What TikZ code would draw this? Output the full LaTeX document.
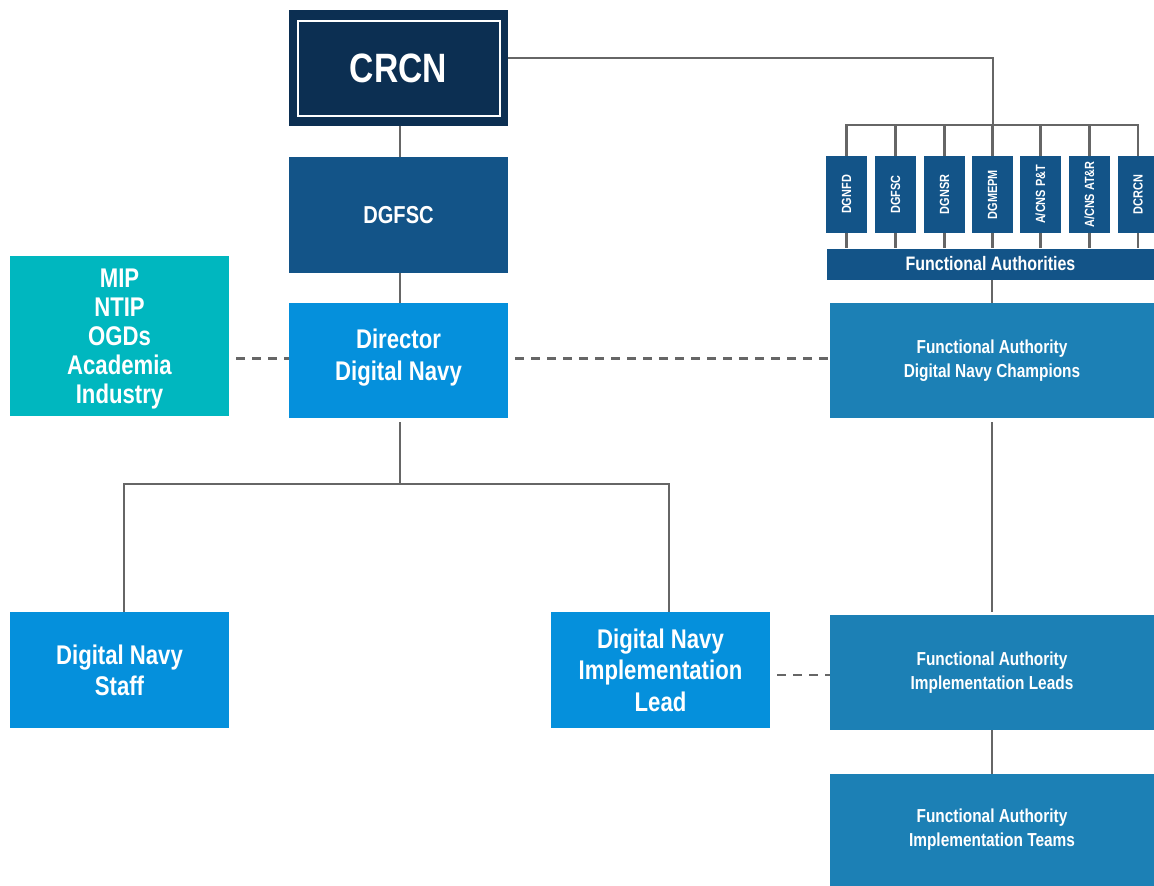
\documentclass[tikz,border=0pt]{standalone}
\usepackage{fontspec}
\setmainfont{Liberation Sans}[FakeStretch=0.82]
\definecolor{navy}{HTML}{0C2F52}
\definecolor{midblue}{HTML}{135488}
\definecolor{brightblue}{HTML}{0590DC}
\definecolor{teal}{HTML}{00B7BF}
\definecolor{fablue}{HTML}{1C80B5}
\definecolor{linegray}{HTML}{666666}
\newcommand{\fsz}[2]{\fontsize{#1}{#2}\selectfont}
\begin{document}
\begin{tikzpicture}[x=1pt,y=-1pt,
  box/.style={draw=none, inner sep=0pt, text=white, align=center, font=\bfseries},
  label/.style={inner sep=0pt, text=white, align=center},
  bigbox/.style={box, minimum width=219pt, minimum height=116pt},
  fabox/.style={box, fill=fablue, minimum width=324pt, minimum height=115pt, font=\bfseries\fsz{18.8}{24}},
  smallbox/.style={box, fill=midblue, minimum width=41pt, minimum height=77pt},
  smalltext/.style={text=white, font=\bfseries\fsz{13.3}{16}, rotate=90, inner sep=0pt},
  conn/.style={draw=linegray, line width=2.5pt},
  dashconn/.style={draw=linegray, line width=2.5pt, dash pattern=on 9pt off 7pt}]
\useasboundingbox (0,0) rectangle (1154,886);

% left column
\node[bigbox, fill=navy, font=\bfseries\fsz{41}{46}] (crcn) at (398.5,68) {CRCN};
\draw[white, line width=2.2pt] ([xshift=9pt,yshift=-11pt]crcn.north west) rectangle ([xshift=-8pt,yshift=10pt]crcn.south east);
\node[bigbox, fill=midblue, font=\bfseries\fsz{24.5}{28}] (dgfsc) at (398.5,215) {DGFSC};
\node[box, fill=teal, minimum width=219pt, minimum height=160pt] (mip) at (119.5,336) {};
\node[label, font=\bfseries\fsz{27}{29}] (miptext) at ([yshift=-3pt]mip.center) {MIP\\NTIP\\OGDs\\Academia\\Industry};
\node[bigbox, fill=brightblue, minimum height=115pt] (dir) at (398.5,360.5) {};
\node[label, font=\bfseries\fsz{27}{32}] (dirtext) at ([yshift=3pt]dir.center) {Director\\Digital Navy};
\node[bigbox, fill=brightblue, font=\bfseries\fsz{27}{31}] (staff) at (119.5,670) {Digital Navy\\Staff};
\node[bigbox, fill=brightblue, font=\bfseries\fsz{27}{31.5}] (impl) at (660.5,670) {Digital Navy\\Implementation\\Lead};

% right column
\node[smallbox] (b1) at (846.5,194.5) {};
\node[smallbox] (b2) at (895.5,194.5) {};
\node[smallbox] (b3) at (944.5,194.5) {};
\node[smallbox] (b4) at (992.5,194.5) {};
\node[smallbox] (b5) at (1040.5,194.5) {};
\node[smallbox] (b6) at (1089.5,194.5) {};
\node[smallbox] (b7) at (1138,194.5) {};
\node[smalltext] at (b1) {DGNFD};
\node[smalltext] at (b2) {DGFSC};
\node[smalltext] at (b3) {DGNSR};
\node[smalltext] at (b4) {DGMEPM};
\node[smalltext] at (b5) {A/CNS P\&T};
\node[smalltext] at (b6) {A/CNS AT\&R};
\node[smalltext] at (b7) {DCRCN};
\node[box, fill=midblue, minimum width=327pt, minimum height=31pt, font=\bfseries\fsz{19.5}{22}] (fa) at (990.5,264) {Functional Authorities};
\node[fabox] (fac) at (992,360.5) {Functional Authority\\Digital Navy Champions};
\node[fabox] (fil) at (992,672.5) {Functional Authority\\Implementation Leads};
\node[fabox, minimum height=112pt] (fit) at (992,830) {Functional Authority\\Implementation Teams};

% connectors
\coordinate (bus) at (993,125);
\coordinate (split) at (400,484);
\draw[conn] ([yshift=10pt]crcn.east) -| (bus);
\draw[conn] (b1.north) |- (bus) -| (b7.north);
\foreach \i in {2,...,6} {\draw[conn] (b\i.north) -- (b\i.north |- bus);}
\foreach \i in {1,...,7} {\draw[conn] (b\i.south) -- (b\i.south |- fa.north);}
\draw[conn] (fac.north) -- (fac.north |- fa.south);
\draw[conn] ([xshift=1.5pt]crcn.south) -- ([xshift=1.5pt]dgfsc.north);
\draw[conn] ([xshift=1.5pt]dgfsc.south) -- ([xshift=1.5pt]dir.north);
\draw[conn] ([yshift=-4pt]dir.south -| split) -- (split);
\draw[conn] ([xshift=4.5pt]staff.north) |- (split) -| ([xshift=8.5pt]impl.north);
\draw[conn] ([yshift=-4pt]fac.south) -- ([yshift=3pt]fil.north);
\draw[conn] (fil.south) -- (fit.north);
\draw[dashconn, shorten <=7pt] ([yshift=2pt]dir.west -| mip.east) -- ([yshift=2pt]dir.west);
\draw[dashconn, shorten <=7pt] ([yshift=2pt]dir.east) -- ([yshift=2pt]dir.east -| fac.west);
\draw[dashconn, shorten <=7pt] ([yshift=-2.5pt]fil.west -| impl.east) -- ([yshift=-2.5pt]fil.west);
\end{tikzpicture}
\end{document}
